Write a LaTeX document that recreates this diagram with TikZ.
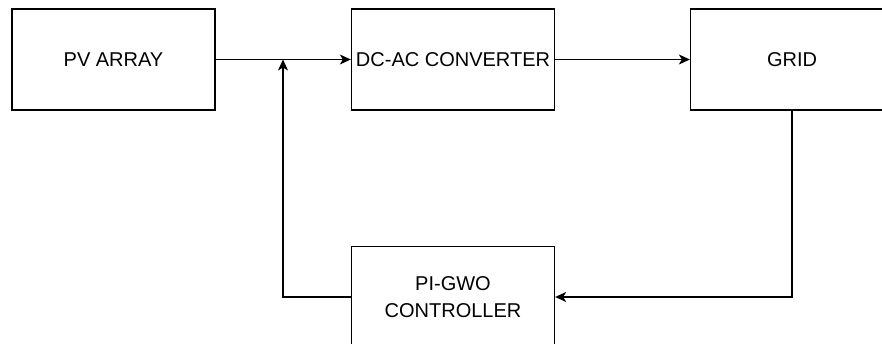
\documentclass[tikz,border=0pt]{standalone}
\usepackage{fontspec}
\setmainfont{Liberation Sans}
\usetikzlibrary{arrows.meta}
\begin{document}
\begin{tikzpicture}[x=1pt,y=-1pt,
  box/.style={draw, line width=1.3pt, minimum width=203pt, minimum height=101pt,
    inner sep=0pt, align=center, font=\fontsize{20}{27}\selectfont},
  conn/.style={line width=1.3pt, -{Stealth[length=11pt,width=10pt,inset=3pt]}}]
\useasboundingbox (0,0) rectangle (882,344);
\clip (0,0) rectangle (882,344);
\node[box] (pv) at (113.5,59.5) {PV ARRAY};
\node[box] (dc) at (453,59.5) {DC-AC CONVERTER};
\node[box] (grid) at (792,59.5) {GRID};
\node[box] (pi) at (453,297) {PI-GWO\\CONTROLLER};
\coordinate (j) at (283,59.5);
\draw[conn] (pv) -- (dc);
\draw[conn] (dc) -- (grid);
\draw[conn] (grid.south) |- (pi.east);
\draw[conn] (pi.west) -| (j);
\end{tikzpicture}
\end{document}
